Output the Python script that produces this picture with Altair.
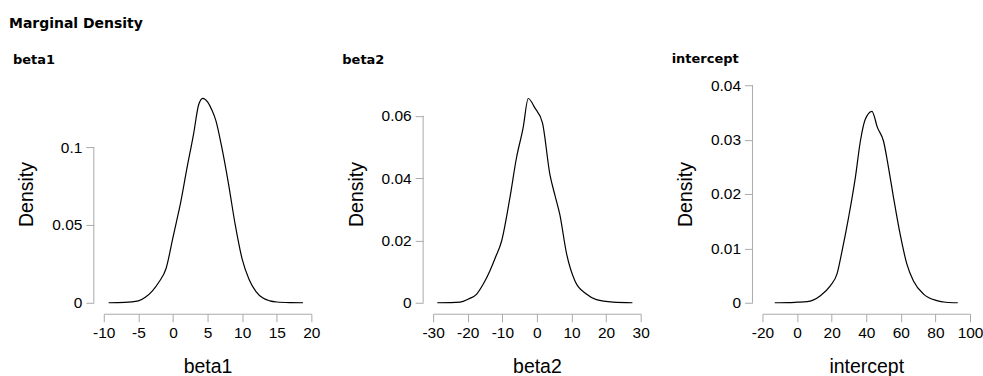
import altair as alt
import pandas as pd

# ---- data ----
beta1_x = [-9.3, -7, -5, -4, -3, -2, -1, 0, 0.5, 1, 2, 3, 3.7, 4.3, 5, 5.6, 6.2, 7, 8, 9, 10, 11, 12, 13, 14, 15, 17, 18.8]
beta1_y = [0.0, 0.0002, 0.0012, 0.0035, 0.0075, 0.0135, 0.022, 0.042, 0.052, 0.062, 0.086, 0.109, 0.127, 0.1313, 0.129, 0.124, 0.117, 0.101, 0.077, 0.050, 0.028, 0.015, 0.0072, 0.003, 0.0012, 0.0005, 0.0001, 0.0]

beta2_x = [-28.8, -25, -22.2, -19.8, -17.4, -15.5, -13.6, -12, -10.2, -7.8, -5.9, -4, -2.5, -0.6, 1.6, 3.75, 5.2, 6.6, 8.6, 11, 14.3, 17.2, 22, 27.6]
beta2_y = [0.0, 0.00005, 0.0002, 0.0012, 0.0028, 0.006, 0.0102, 0.0145, 0.0198, 0.0337, 0.0465, 0.056, 0.0655, 0.0625, 0.0577, 0.0412, 0.0345, 0.0284, 0.0156, 0.007, 0.0028, 0.001, 0.0002, 0.0]

intercept_x = [-12.9, -5, 0, 5.8, 13.5, 19.2, 23.1, 26, 29.8, 33.7, 36.6, 39.4, 43.3, 46.5, 50, 52.9, 55.8, 59.6, 63.5, 67.3, 73.1, 80.8, 86, 92.9]
intercept_y = [0.0, 0.00003, 0.0001, 0.0002, 0.0013, 0.0031, 0.0053, 0.0095, 0.0157, 0.023, 0.0297, 0.0337, 0.0352, 0.0322, 0.0297, 0.0248, 0.0193, 0.0126, 0.0071, 0.004, 0.0016, 0.0004, 0.0001, 0.0]

x_ticks = {
    "beta1": [-10, -5, 0, 5, 10, 15, 20],
    "beta2": [-30, -20, -10, 0, 10, 20, 30],
    "intercept": [-20, 0, 20, 40, 60, 80, 100],
}
y_ticks = {
    "beta1": [0, 0.05, 0.1],
    "beta2": [0, 0.02, 0.04, 0.06],
    "intercept": [0, 0.01, 0.02, 0.03, 0.04],
}
y_top = {"beta1": 0.1397, "beta2": 0.06976, "intercept": 0.04}
title_offset = {"beta1": 18, "beta2": 18, "intercept": 12}

series = {
    "beta1": (beta1_x, beta1_y),
    "beta2": (beta2_x, beta2_y),
    "intercept": (intercept_x, intercept_y),
}

AXIS_COLOR = "#aaaaaa"
LABEL_FONT = "Liberation Sans"
W, H = 208, 218


def panel(name):
    xs, ys = series[name]
    df = pd.DataFrame({"x": xs, "y": ys})
    xt = x_ticks[name]
    yt = y_ticks[name]
    xscale = alt.Scale(domain=[xt[0], xt[-1]], nice=False, zero=False)
    yscale = alt.Scale(domain=[0, y_top[name]], nice=False, zero=False)

    line = alt.Chart(df).mark_line(color="black", strokeWidth=1.2, interpolate="monotone").encode(
        x=alt.X("x:Q", scale=xscale, title=name,
                axis=alt.Axis(values=xt, labelExpr="datum.value + ''", labelOverlap=False, labelFlush=False,
                              offset=11, tickSize=8, tickColor=AXIS_COLOR,
                              domainColor=AXIS_COLOR, grid=False, labelFont=LABEL_FONT, labelFontSize=15.5,
                              labelColor="black", labelPadding=4, titleFont=LABEL_FONT, titleFontSize=19.5,
                              titleFontWeight="normal", titleColor="black", titlePadding=16)),
        y=alt.Y("y:Q", scale=yscale, title="Density",
                axis=alt.Axis(values=yt, labelExpr="datum.value + ''", labelOverlap=False, labelFlush=False,
                              offset=10, tickSize=8, tickColor=AXIS_COLOR,
                              domain=False, grid=False, labelFont=LABEL_FONT, labelFontSize=15.5,
                              labelColor="black", labelPadding=4, titleFont=LABEL_FONT, titleFontSize=19.5,
                              titleFontWeight="normal", titleColor="black", titleX=-67, titleY=H / 2,
                              titleAngle=270, titleBaseline="middle", titleAlign="center")),
    )
    adf = pd.DataFrame({"y0": [yt[0]], "y1": [yt[-1]]})
    yaxis_line = alt.Chart(adf).mark_rule(color=AXIS_COLOR, strokeWidth=1).encode(
        x=alt.value(-10),
        y=alt.Y("y0:Q", scale=yscale),
        y2="y1:Q",
    )
    return alt.layer(yaxis_line, line).properties(
        width=W, height=H,
        title=alt.TitleParams(name, anchor="start", frame="group", dx=-91, offset=title_offset[name],
                              font="DejaVu Sans", fontSize=13, fontWeight="bold", color="black"),
    )


chart = alt.hconcat(panel("beta1"), panel("beta2"), panel("intercept"), spacing=122).properties(
    bounds="flush",
    title=alt.TitleParams("Marginal Density", anchor="start", frame="bounds", offset=22, dx=-4,
                          font="DejaVu Sans", fontSize=14, fontWeight="bold", color="black"),
    padding={"left": 9, "top": 17, "right": 0, "bottom": 0},
).configure(background="white").configure_view(strokeWidth=0, stroke=None)

chart.save("out.html", embed_options={"renderer": "svg", "actions": False})
